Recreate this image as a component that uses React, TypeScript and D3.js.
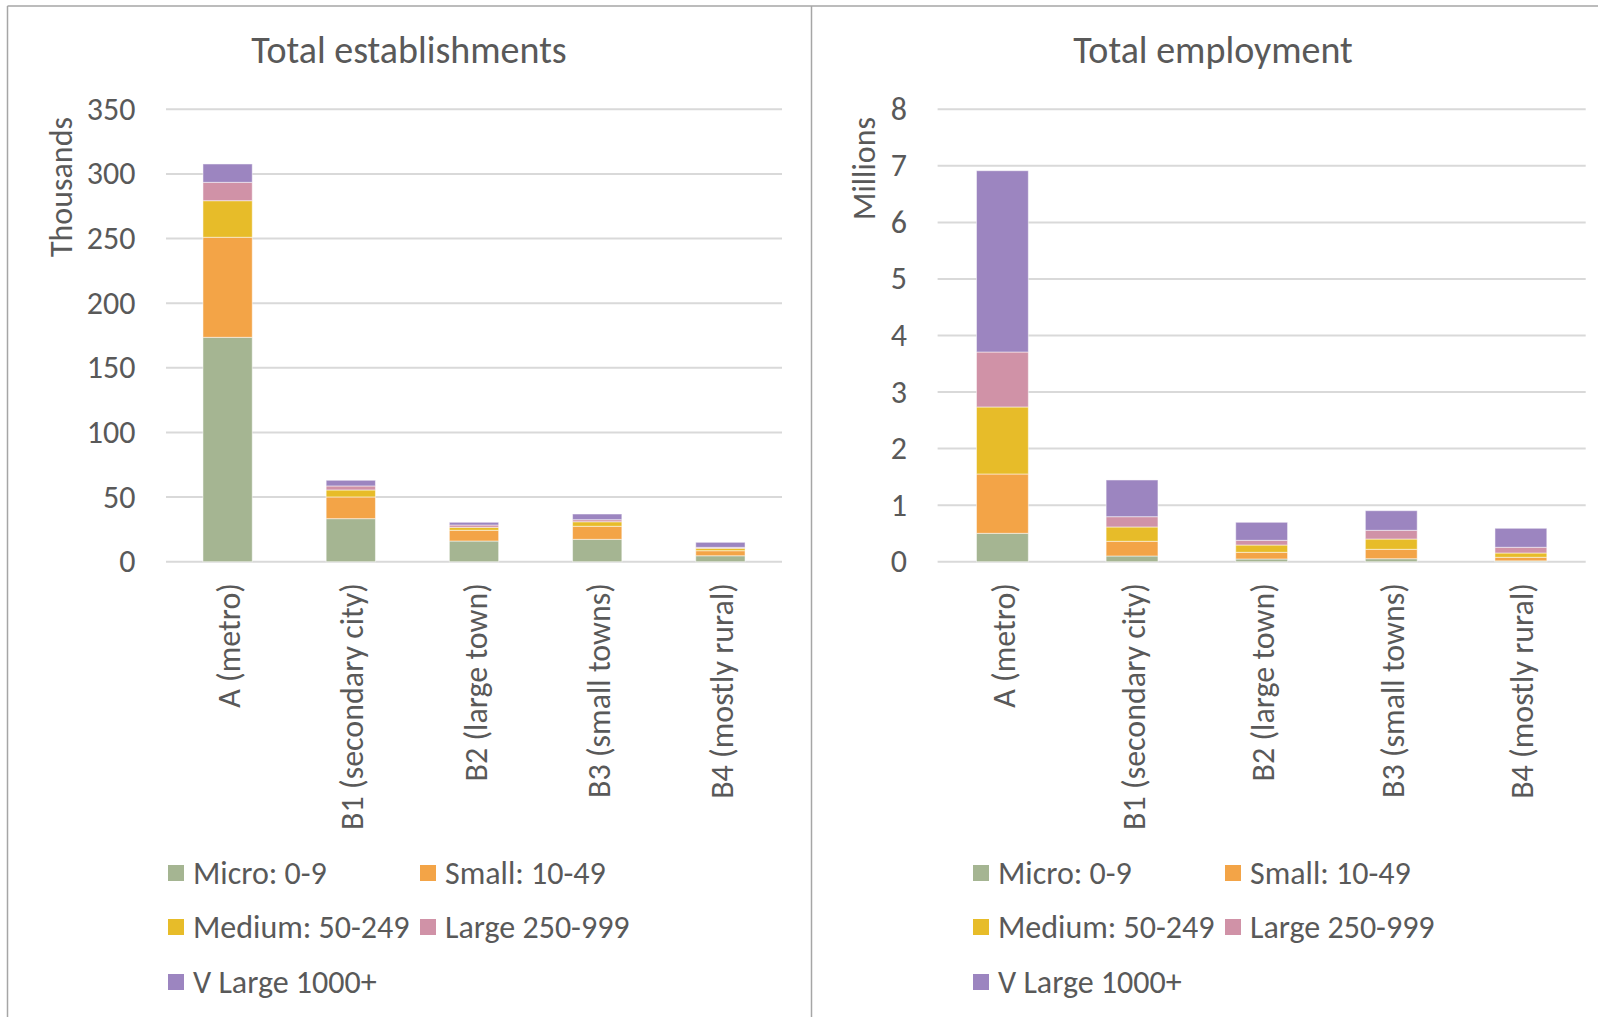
import React from "react";
import * as d3 from "d3";

const categories = ["A (metro)", "B1 (secondary city)", "B2 (large town)", "B3 (small towns)", "B4 (mostly rural)"];
const seriesNames = ["Micro: 0-9", "Small: 10-49", "Medium: 50-249", "Large 250-999", "V Large 1000+"];
const seriesColors = ["#a5b592", "#f3a447", "#e7bc29", "#d092a7", "#9c85c0"];

// Total establishments (thousands)
const estMicro = [173.6, 33.3, 16.0, 17.3, 4.6];
const estSmall = [77.4, 16.8, 8.3, 10.1, 3.9];
const estMedium = [28.3, 5.4, 2.3, 3.5, 1.9];
const estLarge = [14.2, 3.1, 1.8, 1.6, 0.7];
const estVLarge = [14.2, 4.4, 2.1, 4.4, 3.9];
const estTicks = [0, 50, 100, 150, 200, 250, 300, 350];

// Total employment (millions)
const empMicro = [0.502, 0.101, 0.048, 0.053, 0.015];
const empSmall = [1.049, 0.26, 0.118, 0.166, 0.063];
const empMedium = [1.185, 0.253, 0.129, 0.182, 0.076];
const empLarge = [0.972, 0.182, 0.083, 0.154, 0.101];
const empVLarge = [3.206, 0.649, 0.319, 0.347, 0.336];
const empTicks = [0, 1, 2, 3, 4, 5, 6, 7, 8];

const FONT = "Carlito, Calibri, Lato, sans-serif";
const TEXT = "#595959";
const FS = 32;

type PanelProps = {
  title: string;
  titleX: number;
  axisTitle: string;
  axisTitleX: number;
  plotLeft: number;
  plotRight: number;
  tickRight: number;
  ticks: number[];
  series: number[][];
  legendX: number;
  legendX2: number;
};

function Panel(p: PanelProps) {
  const y0 = 561.7;
  const yTop = 109.3;
  const y = d3.scaleLinear().domain([0, p.ticks[p.ticks.length - 1]]).range([y0, yTop]);
  const x = d3
    .scaleBand<string>()
    .domain(categories)
    .range([p.plotLeft, p.plotRight])
    .paddingInner(0.6)
    .paddingOuter(0.3);
  const rows = categories.map((c, i) => {
    const r: Record<string, number | string> = { cat: c };
    seriesNames.forEach((k, j) => (r[k] = p.series[j][i]));
    return r;
  });
  const stacked = d3.stack<any>().keys(seriesNames)(rows as any);
  const legendRows = [873, 927, 982];
  const legendPos = seriesNames.map((_, i) => ({
    x: i % 2 === 0 ? p.legendX : p.legendX2,
    y: legendRows[Math.floor(i / 2)],
  }));
  return (
    <g>
      <text x={p.titleX} y={50} textAnchor="middle" dominantBaseline="central" fontSize={38} fill={TEXT} fontFamily={FONT}>
        {p.title}
      </text>
      {p.ticks.map((t) => (
        <g key={t}>
          <line x1={p.plotLeft} x2={p.plotRight} y1={y(t)} y2={y(t)} stroke="#d9d9d9" strokeWidth={2} />
          <text x={p.tickRight} y={y(t)} textAnchor="end" dominantBaseline="central" fontSize={FS} fill={TEXT} fontFamily={FONT}>
            {t}
          </text>
        </g>
      ))}
      <text
        transform={`translate(${p.axisTitleX},117) rotate(-90)`}
        textAnchor="end"
        dominantBaseline="central"
        fontSize={FS}
        fill={TEXT}
        fontFamily={FONT}
      >
        {p.axisTitle}
      </text>
      {stacked.map((s, si) => (
        <g key={s.key} fill={seriesColors[si]}>
          {s.map((d, ci) => (
            <rect
              key={ci}
              x={x(categories[ci])!}
              width={x.bandwidth()}
              y={y(d[1])}
              height={Math.max(0, y(d[0]) - y(d[1]))}
              stroke="#ffffff"
              strokeOpacity={0.5}
              strokeWidth={1}
            />
          ))}
        </g>
      ))}
      {categories.map((c) => (
        <text
          key={c}
          transform={`translate(${x(c)! + x.bandwidth() / 2 + 2},583) rotate(-90)`}
          textAnchor="end"
          dominantBaseline="central"
          fontSize={FS}
          fill={TEXT}
          fontFamily={FONT}
        >
          {c}
        </text>
      ))}
      {seriesNames.map((n, i) => (
        <g key={n}>
          <rect x={legendPos[i].x} y={legendPos[i].y - 8} width={16} height={16} fill={seriesColors[i]} />
          <text x={legendPos[i].x + 25} y={legendPos[i].y} dominantBaseline="central" fontSize={FS} fill={TEXT} fontFamily={FONT}>
            {n}
          </text>
        </g>
      ))}
    </g>
  );
}

export default function App() {
  return (
    <svg
      width={1598}
      height={1017}
      style={{ position: "absolute", left: 0, top: 0, background: "#ffffff" }}
    >
      <rect x={0} y={0} width={1598} height={1017} fill="#ffffff" />
      <line x1={7.5} x2={1598} y1={6} y2={6} stroke="#a6a6a6" strokeWidth={1.5} />
      <line x1={7.5} x2={7.5} y1={6} y2={1017} stroke="#a6a6a6" strokeWidth={1.5} />
      <line x1={811.5} x2={811.5} y1={6} y2={1017} stroke="#a6a6a6" strokeWidth={1.5} />
      <Panel
        title="Total establishments"
        titleX={409}
        axisTitle="Thousands"
        axisTitleX={61}
        plotLeft={166}
        plotRight={782}
        tickRight={135.5}
        ticks={estTicks}
        series={[estMicro, estSmall, estMedium, estLarge, estVLarge]}
        legendX={168}
        legendX2={420}
      />
      <Panel
        title="Total employment"
        titleX={1213}
        axisTitle="Millions"
        axisTitleX={864}
        plotLeft={937.6}
        plotRight={1585.7}
        tickRight={907}
        ticks={empTicks}
        series={[empMicro, empSmall, empMedium, empLarge, empVLarge]}
        legendX={973}
        legendX2={1225}
      />
    </svg>
  );
}
